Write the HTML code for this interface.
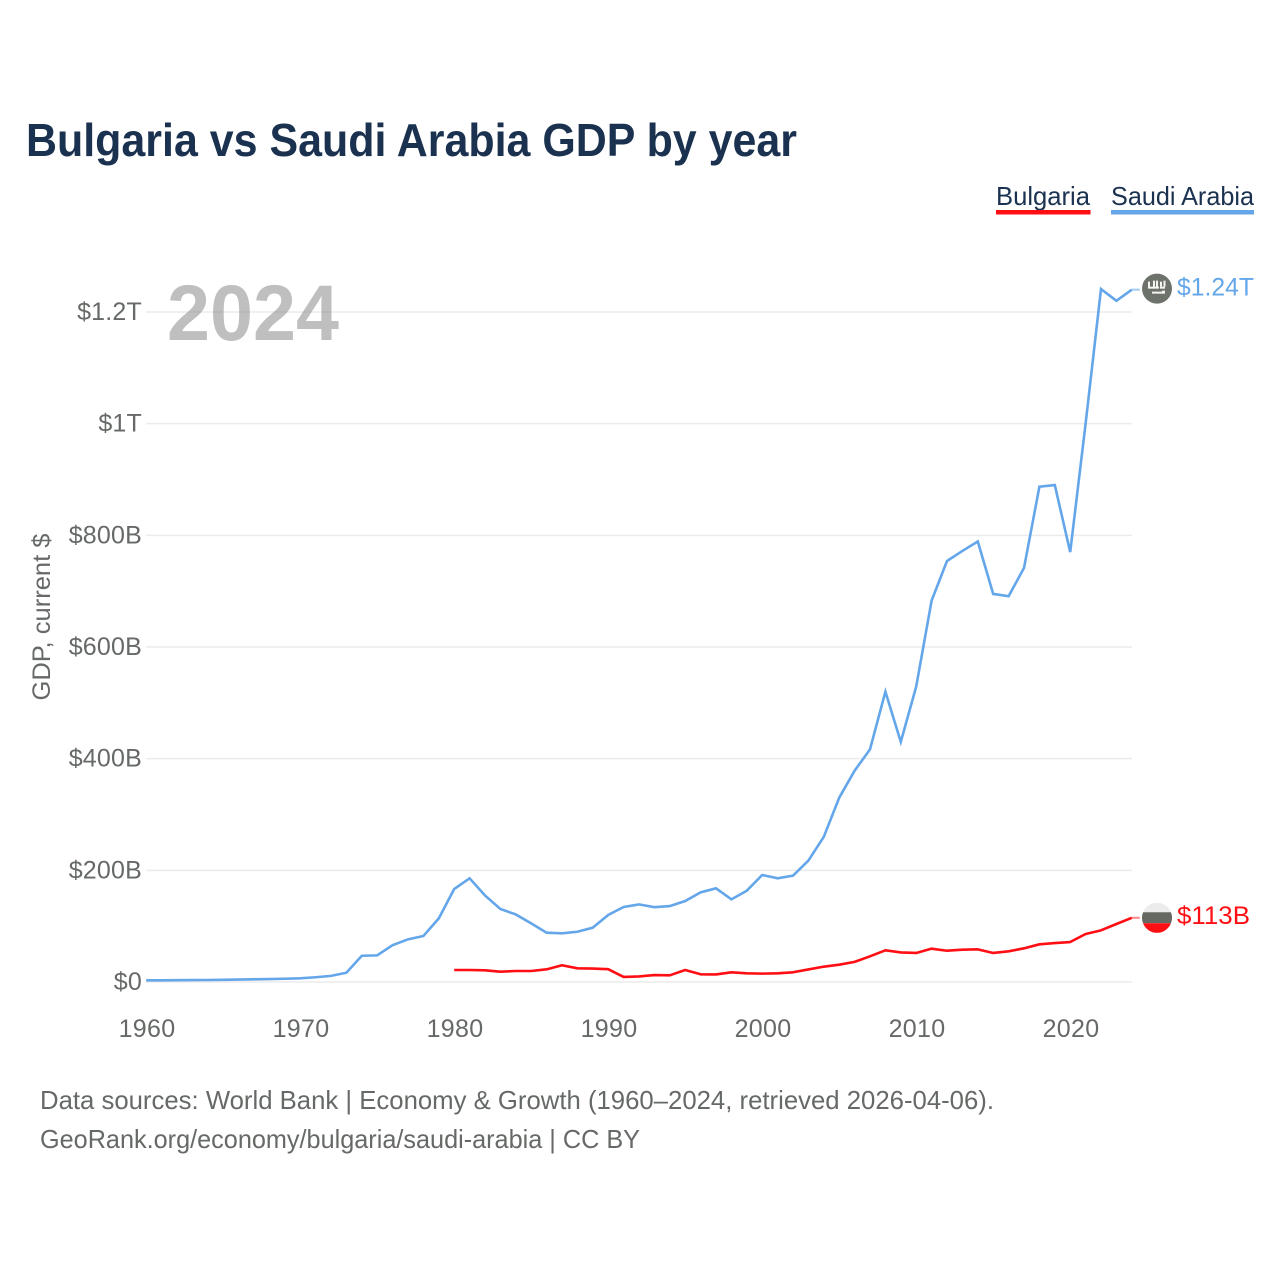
<!DOCTYPE html>
<html lang="en">
<head>
<meta charset="utf-8">
<title>Bulgaria vs Saudi Arabia GDP by year</title>
<style>
html,body{margin:0;padding:0;background:#fff;}
svg{display:block;font-family:"Liberation Sans",sans-serif;}
.tick{font-size:25px;fill:#666a66;}
.foot{font-size:26px;fill:#666a66;}
.legend{font-size:26px;fill:#1a3150;}
</style>
</head>
<body>
<svg id="chart" width="1280" height="1280" viewBox="0 0 1280 1280" xmlns="http://www.w3.org/2000/svg">
  <rect width="1280" height="1280" fill="#fff"/>
  <text x="26" y="156" font-size="46" font-weight="700" fill="#1a3150" textLength="771" lengthAdjust="spacingAndGlyphs">Bulgaria vs Saudi Arabia GDP by year</text>

  <g>
    <text class="legend" x="996" y="205" textLength="94" lengthAdjust="spacingAndGlyphs">Bulgaria</text>
    <rect x="996" y="210" width="94.5" height="4.5" fill="#ff0f14"/>
  </g>
  <g>
    <text class="legend" x="1111" y="205" textLength="143" lengthAdjust="spacingAndGlyphs">Saudi Arabia</text>
    <rect x="1111" y="210" width="143" height="4.5" fill="#64a6ea"/>
  </g>

  <g id="grid"></g>
  <g id="yticks"></g>
  <g id="xticks"></g>

  <text transform="translate(50,617) rotate(-90)" text-anchor="middle" font-size="25" fill="#666a66" textLength="167" lengthAdjust="spacingAndGlyphs">GDP, current $</text>
  <text x="167" y="340" font-size="79" font-weight="700" fill="#7f7f7f" fill-opacity="0.5" textLength="172" lengthAdjust="spacingAndGlyphs">2024</text>

  <g id="series"></g>

  <g id="flag-saudi">
    <circle r="15" cx="0" cy="0" fill="#6d726b"/>
    <g fill="#f4f4f2">
      <rect x="-9" y="-7" width="2" height="6"/><rect x="-9" y="-2" width="6" height="2"/>
      <rect x="-4" y="-8" width="2" height="7"/><rect x="-1" y="-8" width="2" height="7"/>
      <rect x="-4" y="-2" width="6" height="2"/><rect x="3" y="-7" width="2" height="5"/>
      <rect x="6.5" y="-8" width="2" height="6"/><rect x="3" y="-2" width="5" height="2"/>
      <rect x="-5" y="3" width="11" height="2"/><rect x="5" y="2" width="3" height="3"/>
    </g>
  </g>
  <g id="flag-bulgaria">
    <path d="M-13.96,-5.5 A15,15 0 0 1 13.96,-5.5 Z" fill="#ececec"/>
    <path d="M-13.96,-5.5 H13.96 A15,15 0 0 1 13.96,5.5 H-13.96 A15,15 0 0 1 -13.96,-5.5 Z" fill="#666862"/>
    <path d="M-13.96,5.5 H13.96 A15,15 0 0 1 -13.96,5.5 Z" fill="#ff0f14"/>
  </g>

  <text class="foot" x="40" y="1109" textLength="954" lengthAdjust="spacingAndGlyphs">Data sources: World Bank | Economy &amp; Growth (1960–2024, retrieved 2026-04-06).</text>
  <text class="foot" x="40" y="1148" textLength="600" lengthAdjust="spacingAndGlyphs">GeoRank.org/economy/bulgaria/saudi-arabia | CC BY</text>
</svg>
<script>
const saudiStartYear = 1960;
const saudiValues = [3,3,3.2,3.4,3.6,4,4.4,4.8,5.3,5.8,6.6,8.5,11,16.6,47,47.7,66,76.4,82.4,114,166.6,185.7,155,130.7,121,105,88.3,87.2,90,97.3,120,134.3,139,134,136,145,160.6,167.8,148,163.5,191.6,185.7,190.4,217.5,260,330,378.4,416.7,520,430,529,683,754,772,789,695,691,741.5,887,890,770,1000,1241,1220,1240];
const bulgariaStartYear = 1980;
const bulgariaValues = [21.5,21.5,21,18.5,19.7,19.7,22.7,30,24.5,24,23,9,10,12.5,12,21.5,13.8,13.5,17.4,15.6,15,15.6,17.4,22.5,27.5,31,36,46,56.7,53,52,59.7,56,57.9,58.5,52,55,60.3,67.5,69.8,71.6,86,92.5,103.9,115];
const yTickValues = [0,200,400,600,800,1000,1200];
const yTickLabels = ["$0","$200B","$400B","$600B","$800B","$1T","$1.2T"];
const xTickYears = [1960,1970,1980,1990,2000,2010,2020];
const saudiEndLabel = "$1.24T";
const bulgariaEndLabel = "$113B";

const NS = "http://www.w3.org/2000/svg";
const xScale = function (year) { return 146.2 + (year - 1960) * 15.4; };
const yScale = function (value) { return 982 - value * 0.55835; };
const svgRoot = document.getElementById("chart");
const gridLayer = document.getElementById("grid");
const yLayer = document.getElementById("yticks");
const xLayer = document.getElementById("xticks");
const seriesLayer = document.getElementById("series");

yTickValues.forEach(function (v, i) {
  const line = document.createElementNS(NS, "line");
  
  
  line.setAttribute("x1", 146);
  line.setAttribute("x2", xScale(2024));
  line.setAttribute("y1", yScale(v));
  line.setAttribute("y2", yScale(v));
  line.setAttribute("stroke", "#ebebeb");
  line.setAttribute("stroke-width", "1.5");
  gridLayer.appendChild(line);

  const label = document.createElementNS(NS, "text");
  
  
  label.setAttribute("class", "tick");
  label.setAttribute("x", 142);
  label.setAttribute("y", yScale(v) + 8);
  label.setAttribute("text-anchor", "end");
  label.setAttribute("letter-spacing", "0.2");
  label.textContent = yTickLabels[i];
  yLayer.appendChild(label);
});

xTickYears.forEach(function (year) {
  const label = document.createElementNS(NS, "text");
  
  
  label.setAttribute("class", "tick");
  label.setAttribute("x", xScale(year) + 0.8);
  label.setAttribute("y", 1037);
  label.setAttribute("text-anchor", "middle");
  label.setAttribute("letter-spacing", "0.3");
  label.textContent = year;
  xLayer.appendChild(label);
});

function pointsFor(startYear, values) {
  return values.map(function (v, i) {
    return xScale(startYear + i).toFixed(2) + "," + yScale(v).toFixed(2);
  }).join(" ");
}

const saudiLine = document.createElementNS(NS, "polyline");


saudiLine.setAttribute("points", pointsFor(saudiStartYear, saudiValues));
saudiLine.setAttribute("fill", "none");
saudiLine.setAttribute("stroke", "#64a6ea");
saudiLine.setAttribute("stroke-width", "2.6");
saudiLine.setAttribute("stroke-linejoin", "miter");
seriesLayer.appendChild(saudiLine);

const bulgariaLine = document.createElementNS(NS, "polyline");


bulgariaLine.setAttribute("points", pointsFor(bulgariaStartYear, bulgariaValues));
bulgariaLine.setAttribute("fill", "none");
bulgariaLine.setAttribute("stroke", "#ff0f14");
bulgariaLine.setAttribute("stroke-width", "2.6");
bulgariaLine.setAttribute("stroke-linejoin", "round");
seriesLayer.appendChild(bulgariaLine);

const saudiLast = saudiValues[saudiValues.length - 1];
const bulgariaLast = bulgariaValues[bulgariaValues.length - 1];
const endX = xScale(2024);

const saudiLeader = document.createElementNS(NS, "line");


saudiLeader.setAttribute("x1", endX);
saudiLeader.setAttribute("x2", endX + 8);
saudiLeader.setAttribute("y1", yScale(saudiLast));
saudiLeader.setAttribute("y2", yScale(saudiLast));
saudiLeader.setAttribute("stroke", "#64a6ea");
saudiLeader.setAttribute("stroke-opacity", "0.6");
saudiLeader.setAttribute("stroke-width", "2");
seriesLayer.appendChild(saudiLeader);

const bulgariaLeader = document.createElementNS(NS, "line");


bulgariaLeader.setAttribute("x1", endX);
bulgariaLeader.setAttribute("x2", endX + 8);
bulgariaLeader.setAttribute("y1", yScale(bulgariaLast));
bulgariaLeader.setAttribute("y2", yScale(bulgariaLast));
bulgariaLeader.setAttribute("stroke", "#ff0f14");
bulgariaLeader.setAttribute("stroke-opacity", "0.5");
bulgariaLeader.setAttribute("stroke-width", "2");
seriesLayer.appendChild(bulgariaLeader);

document.getElementById("flag-saudi").setAttribute("transform", "translate(1157," + (yScale(saudiLast) - 1) + ")");
document.getElementById("flag-bulgaria").setAttribute("transform", "translate(1157," + yScale(bulgariaLast) + ")");

const saudiEnd = document.createElementNS(NS, "text");


saudiEnd.setAttribute("x", 1177);
saudiEnd.setAttribute("y", yScale(saudiLast) + 6);
saudiEnd.setAttribute("font-size", "25");
saudiEnd.setAttribute("fill", "#64a6ea");
saudiEnd.setAttribute("textLength", "77");
saudiEnd.setAttribute("lengthAdjust", "spacingAndGlyphs");
saudiEnd.textContent = saudiEndLabel;
svgRoot.appendChild(saudiEnd);

const bulgariaEnd = document.createElementNS(NS, "text");


bulgariaEnd.setAttribute("x", 1177);
bulgariaEnd.setAttribute("y", yScale(bulgariaLast) + 6);
bulgariaEnd.setAttribute("font-size", "25");
bulgariaEnd.setAttribute("fill", "#ff0f14");
bulgariaEnd.setAttribute("textLength", "73");
bulgariaEnd.setAttribute("lengthAdjust", "spacingAndGlyphs");
bulgariaEnd.textContent = bulgariaEndLabel;
svgRoot.appendChild(bulgariaEnd);
</script>
</body>
</html>
